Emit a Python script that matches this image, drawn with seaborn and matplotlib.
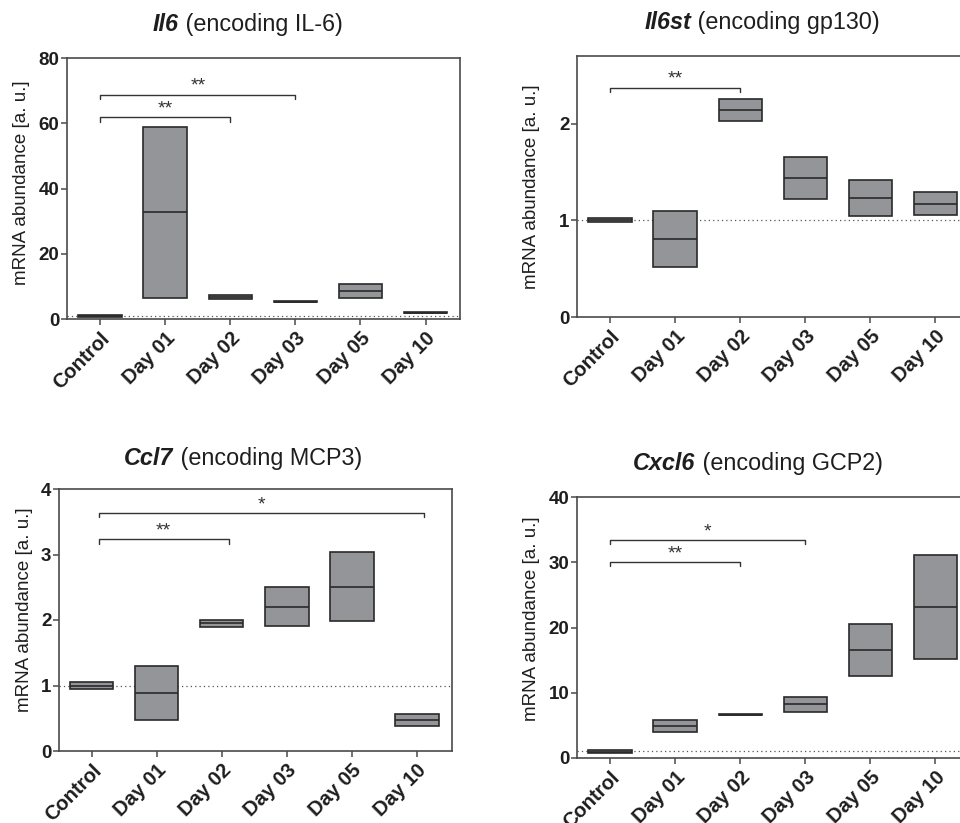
import matplotlib
matplotlib.use("Agg")
import matplotlib.pyplot as plt
import matplotlib.transforms as mtransforms
import seaborn as sns
import pandas as pd

sns.set_theme(style="white")
plt.rcParams['font.family'] = ['Liberation Sans', 'DejaVu Sans']

categories = ["Control", "Day 01", "Day 02", "Day 03", "Day 05", "Day 10"]

il6_low = [0.75, 6.3, 6.0, 5.2, 6.5, 1.7]
il6_med = [1.0, 32.7, 6.7, 5.35, 8.7, 1.9]
il6_high = [1.25, 58.7, 7.5, 5.5, 10.6, 2.1]

il6st_low = [0.98, 0.52, 2.03, 1.22, 1.04, 1.06]
il6st_med = [1.00, 0.81, 2.145, 1.44, 1.23, 1.17]
il6st_high = [1.02, 1.10, 2.255, 1.66, 1.42, 1.29]

ccl7_low = [0.94, 0.48, 1.90, 1.91, 1.98, 0.38]
ccl7_med = [1.00, 0.89, 1.95, 2.20, 2.51, 0.48]
ccl7_high = [1.06, 1.30, 2.00, 2.505, 3.04, 0.57]

cxcl6_low = [0.7, 4.03, 6.55, 7.09, 12.55, 15.15]
cxcl6_med = [0.95, 4.9, 6.63, 8.21, 16.58, 23.16]
cxcl6_high = [1.2, 5.77, 6.7, 9.29, 20.6, 31.17]

gene_names = ["Il6", "Il6st", "Ccl7", "Cxcl6"]
protein_texts = [" (encoding IL-6)", " (encoding gp130)", " (encoding MCP3)", " (encoding GCP2)"]

il6_brackets = [(0, 2, 61.8, "**"), (0, 3, 68.7, "**")]
il6st_brackets = [(0, 2, 2.37, "**")]
ccl7_brackets = [(0, 2, 3.23, "**"), (0, 5, 3.63, "*")]
cxcl6_brackets = [(0, 2, 30.0, "**"), (0, 3, 33.4, "*")]

y_tops = [80, 2.7, 4, 40]
y_ticks = [[0, 20, 40, 60, 80], [0, 1, 2], [0, 1, 2, 3, 4], [0, 10, 20, 30, 40]]

panels = [
    (il6_low, il6_med, il6_high, il6_brackets),
    (il6st_low, il6st_med, il6st_high, il6st_brackets),
    (ccl7_low, ccl7_med, ccl7_high, ccl7_brackets),
    (cxcl6_low, cxcl6_med, cxcl6_high, cxcl6_brackets),
]

W, H = 960, 823
fig = plt.figure(figsize=(9.6, 8.23), dpi=100)

# axes rectangles in pixels: left, top, right, bottom
rects_px = [(67, 58, 460, 319), (577, 56, 968, 317), (59, 489, 452, 751), (577, 497, 968, 758)]
xlims = [(-0.51, 5.53), (-0.51, 5.5), (-0.5, 5.54), (-0.51, 5.5)]
title_centers = [(248, 31), (762, 29), (243, 465), (758, 470)]
bracket_shift = [0.0, 0.0, 0.11, 0.0]
ylabel_dist = [45, 45, 34, 46]
ylabel_cy = [183, 187, 610, 619]

fill = "#939598"
edge = "#2a2a2a"
spine_c = "#4a4a4a"
txt_c = "#1e1e1e"

for i, (lo, me, hi, brackets) in enumerate(panels):
    l, t, r, b = rects_px[i]
    ax = fig.add_axes([l / W, 1 - b / H, (r - l) / W, (b - t) / H])
    rows = []
    for c, a, m, h in zip(categories, lo, me, hi):
        for v in (a, a, m, h, h):
            rows.append({"group": c, "value": v})
    df = pd.DataFrame(rows)
    sns.boxplot(data=df, x="group", y="value", order=categories, ax=ax,
                whis=0, width=0.67, color=fill, saturation=1, linecolor=edge,
                linewidth=1.2, showcaps=False, fliersize=0,
                medianprops={"color": edge, "linewidth": 1.2}, zorder=3)
    ax.set_xlim(*xlims[i])
    ax.set_ylim(0, y_tops[i])
    ax.set_yticks(y_ticks[i])
    ax.set_yticklabels([str(v) for v in y_ticks[i]], fontweight="bold", fontsize=13.5, color=txt_c)
    ax.set_xticks(range(len(categories)))
    ax.set_xticklabels(categories, rotation=45, ha="right", va="top", rotation_mode="anchor",
                       fontweight="bold", fontsize=14.5, color=txt_c)
    shift = mtransforms.ScaledTranslation(-0.02, 0.0, fig.dpi_scale_trans)
    for lab in ax.get_xticklabels():
        lab.set_transform(lab.get_transform() + shift)
    ax.set_xlabel("")
    ax.set_ylabel("mRNA abundance [a. u.]", fontsize=13.5, color=txt_c)
    ax.yaxis.label.set_va("center")
    ax.yaxis.set_label_coords(-ylabel_dist[i] / (r - l), (b - ylabel_cy[i]) / (b - t))
    ax.axhline(1, color="#555555", linestyle=(0, (1, 2.5)), linewidth=0.9, zorder=1)
    for sp in ax.spines.values():
        sp.set_color(spine_c)
        sp.set_linewidth(1.2)
        sp.set_visible(True)
    ax.tick_params(axis="both", which="both", direction="out", length=4.5, width=1.1,
                   color=spine_c, bottom=True, left=True)
    ax.tick_params(axis="y", pad=1)
    ax.tick_params(axis="x", pad=2.5)
    ax.grid(False)
    d = 0.016 * y_tops[i]
    s = bracket_shift[i]
    for x1, x2, yb, star in brackets:
        ax.plot([x1 + s, x1 + s, x2 + s, x2 + s], [yb - d, yb, yb, yb - d],
                color="#333333", linewidth=1.0, zorder=4, clip_on=False)
        ax.annotate(star, xy=((x1 + x2) / 2 + s, yb), xytext=(0, 0),
                    textcoords="offset points", ha="center", va="bottom",
                    fontsize=14, color="#333333")
    # title: bold italic gene name + normal text, centered at given pixel x
    cx, by = title_centers[i]
    t1 = fig.text(cx / W, 1 - by / H, gene_names[i], fontsize=16.8, fontweight="bold",
                  fontstyle="italic", color=txt_c, ha="left", va="baseline")
    t2 = fig.text(cx / W, 1 - by / H, protein_texts[i], fontsize=16.8, color=txt_c,
                  ha="left", va="baseline")
    fig.canvas.draw()
    rend = fig.canvas.get_renderer()
    w1 = t1.get_window_extent(rend).width
    w2 = t2.get_window_extent(rend).width
    start = cx - (w1 + w2) / 2
    t1.set_x(start / W)
    t2.set_x((start + w1) / W)

fig.savefig("out.png", dpi=100)
